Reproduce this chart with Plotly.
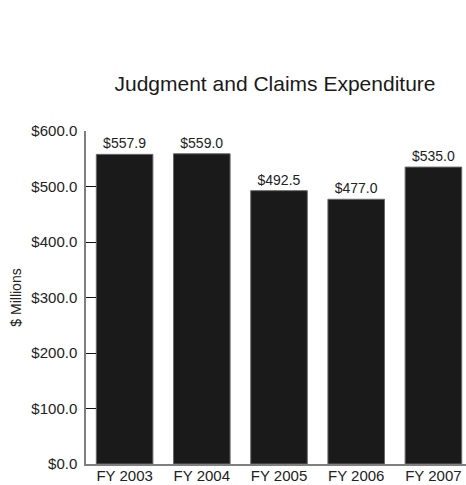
import plotly.graph_objects as go

# Judgment and claims spending by fiscal year ($ millions)
years = ["FY 2003", "FY 2004", "FY 2005", "FY 2006", "FY 2007"]
spending = [557.9, 559.0, 492.5, 477.0, 535.0]
value_labels = ["$557.9", "$559.0", "$492.5", "$477.0", "$535.0"]

FONT = "Liberation Sans, Arial, sans-serif"
W, H = 466, 485

fig = go.Figure(
    go.Bar(
        x=years,
        y=spending,
        text=value_labels,
        textposition="outside",
        cliponaxis=False,
        marker=dict(color="#1a1a1a", line=dict(color="#6a6a6a", width=1)),
        outsidetextfont=dict(family=FONT, size=14, color="#222222"),
        hoverinfo="skip",
    )
)

fig.update_layout(
    width=W,
    height=H,
    margin=dict(l=85.5, r=0, t=131.3, b=21, autoexpand=False),
    paper_bgcolor="white",
    plot_bgcolor="white",
    showlegend=False,
    bargap=0.267,
    font=dict(family=FONT, color="#222222"),
    title=dict(
        text="Judgment and Claims Expenditure",
        x=275 / W,
        xanchor="center",
        xref="container",
        y=1 - 84 / H,
        yanchor="middle",
        yref="container",
        font=dict(family=FONT, size=21, color="#1a1a1a"),
    ),
)

fig.update_xaxes(
    type="category",
    range=[-0.5, 4.422],
    showline=True,
    linecolor="#7f7f7f",
    linewidth=1.5,
    ticks="",
    ticklabelstandoff=-3,
    showgrid=False,
    zeroline=False,
    automargin=False,
    tickfont=dict(family=FONT, size=15, color="#222222"),
)

fig.update_yaxes(
    range=[0, 600],
    dtick=100,
    tick0=0,
    tickprefix="$",
    tickformat=".1f",
    showline=True,
    linecolor="#7f7f7f",
    linewidth=1.5,
    ticks="inside",
    ticklen=10,
    tickcolor="#111111",
    tickwidth=1,
    ticklabelstandoff=4,
    showgrid=False,
    zeroline=False,
    automargin=False,
    tickfont=dict(family=FONT, size=15, color="#222222"),
    title=dict(text="$ Millions", font=dict(family=FONT, size=14, color="#222222"), standoff=6),
)

fig.write_html("out.html")
